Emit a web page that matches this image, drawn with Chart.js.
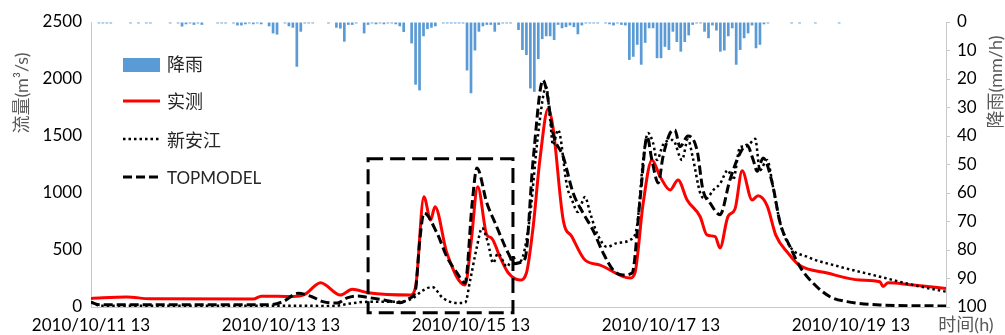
<!DOCTYPE html>
<html><head><meta charset="utf-8">
<script src="https://cdn.jsdelivr.net/npm/chart.js@4.4.0/dist/chart.umd.min.js"></script>
<style>html,body{margin:0;padding:0;background:#fff;}canvas{display:block;}</style>
</head><body>
<canvas id="c" width="1005" height="335" style="width:1005px;height:335px"></canvas>
<script>
// ---- x axis (hours since 2010/10/11 13:00) ----
const xTickHours = [0, 48, 96, 144, 192];
const xTickLabels = ['2010/10/11 13', '2010/10/13 13', '2010/10/15 13', '2010/10/17 13', '2010/10/19 13'];
const flowTicks = [0, 500, 1000, 1500, 2000, 2500];
const rainTicks = [0, 10, 20, 30, 40, 50, 60, 70, 80, 90, 100];

// ---- rainfall (mm/h) ----
const rainHours = [2,3,4,5,10,12,14,15,20,22,23,24,25,26,27,28,32,33,34,36,37,38,39,40,41,42,43,45,46,47,49,50,51,52,53,54,55,56,60,62,63,64,65,66,67,69,70,71,72,73,74,75,76,77,78,79,81,82,83,84,85,86,87,89,90,91,92,93,94,95,96,97,98,99,100,101,102,103,104,105,106,108,109,110,111,112,113,114,115,116,117,118,119,120,121,122,123,124,125,126,127,128,130,131,132,133,134,135,136,137,138,139,140,141,142,143,144,145,146,147,148,149,150,151,152,153,154,155,156,157,158,159,160,161,162,163,164,165,166,167,168,169,170,171,177,179,183,189];
const rainMM = [0.5,0.5,0.5,0.5,0.5,0.5,0.5,0.5,0.5,0.5,1.6,0.8,0.5,1,0.5,1,0.5,0.5,0.5,0.5,1.2,1.2,0.8,0.5,0.8,0.5,0.8,1.5,4,4.4,0.5,1.5,2,15.7,3.4,0.5,0.5,0.5,0.5,2,2.3,6.9,1,1,0.5,4,1,0.5,0.8,0.5,0.8,0.5,0.5,0.8,1.5,3.5,7.5,22,24,5,2.5,2,1.5,0.5,0.5,0.5,0.5,0.5,0.5,17,25,10,3.4,1.5,1,1,3.4,1,0.5,0.5,0.5,2.8,9.8,11.6,23.3,24.5,13,6,5,5,6.3,1,2.2,1.8,1.2,1.8,4.3,1.2,0.5,0.5,0.5,0.5,0.5,0.8,1.2,0.5,1,1.2,13.3,12.2,8,15,7.3,2.2,2.2,12.7,12.7,8.7,9.8,3.4,7,10.4,7,4.7,1,0.5,0.5,3.4,5.7,1.2,3,10.4,10,5,2.2,15,9.8,5.7,4,1.2,9.2,8,0.8,0.5,0.5,0.5,0.5,0.5];

// ---- observed flow 实测 (m3/s) ----
const obsHours = [0,9,15,41,43,51,54,58,63,66,70,80.6,82,84.1,85.8,86.9,89.9,94.5,96,97.7,100,101.2,103.3,105.4,108.4,110,111.7,113.4,115.5,116.7,119.3,121.5,124.8,128.6,136.2,137.4,139.5,141.7,143.8,146.3,148.3,150.6,153.9,155.6,157.7,158.9,160.9,162.7,164.5,167,168.5,170.8,173,176.1,178.9,186,194.3,199.3,200.1,201.4,207.7,216];
const obsFlow = [75,88,72,70,95,92,110,213,105,155,125,105,178,968,763,880,473,193,560,1055,632,605,440,300,237,298,704,1290,1740,1580,763,617,412,368,254,298,912,1290,1143,1026,1114,939,792,632,617,518,792,860,1195,939,975,890,630,473,368,298,237,222,180,213,193,162];

// ---- 新安江 model ----
const xajHours = [0,2.3,52.8,61.1,65.4,69.7,78.1,81.4,83.6,86.2,88.9,92.5,94.5,95.8,97.5,98.8,100.3,101.6,102.8,105.1,106.6,107.6,109.1,110.9,112.9,115,116,116.7,118,120.3,121.5,123,124.8,126.1,127.8,130.4,132.9,136.2,137.9,139.5,140.7,142,143,144.5,147,149.3,150.8,152.1,153.9,155.4,157.2,158.9,160.9,162.2,164,165.7,167.8,169,170.8,172.3,174.1,176.6,180.9,189.2,199.3,207.7,216];
const xajFlow = [45,12,12,8,30,45,47,79,140,175,79,35,38,237,529,693,561,386,470,353,441,386,441,800,1500,1930,1640,1421,1553,1053,939,833,965,825,650,527,561,588,702,1290,1526,1438,1290,1421,1465,1290,1470,1300,1000,950,1026,1080,1200,1114,1404,1410,1475,1200,1290,1055,737,529,441,353,266,193,134];

// ---- TOPMODEL ----
const topHours = [0,2.3,45,48.5,52.3,55.8,58.6,62.2,64.7,67.2,69.7,74.3,78.1,80.6,81.9,83.1,84.1,87.4,89.9,92.5,94.5,96.3,97.5,100,102.1,105.4,107.1,108.4,109.7,111.7,114.2,115.2,116.7,119.3,121.8,124.3,126.8,129.4,131.9,134.4,136.7,138.7,140.5,141.7,143.3,144.5,146.3,147.5,148.8,150.8,153.1,154.6,156.4,158.9,161.4,164,165.7,167.3,168.3,169.8,172.1,174.1,176.6,179.1,182.4,186.7,191,199.3,216];
const topFlow = [40,20,20,47,120,90,47,35,80,96,85,60,38,79,134,600,825,649,441,298,210,912,1220,912,737,473,380,390,430,1290,1990,1877,1526,1318,1000,825,675,473,325,280,298,939,1494,1290,1088,1318,1526,1553,1406,1500,1377,1026,912,810,1114,1351,1420,1290,1190,1307,1088,737,529,353,210,90,47,18,9];

// highlighted window (hours / flow)
const boxHours = [70, 106.6];
const boxFlow = [-50, 1300];

const pts = (xs, ys) => xs.map((x, i) => ({x: x, y: ys[i]}));
const AX = '#c8c8c8';
const TICKFONT = {family: "Lato, 'Noto Sans CJK SC', sans-serif", size: 17};

const overlay = {
  id: 'overlay',
  afterDraw(chart) {
    const ctx = chart.ctx, xs = chart.scales.x, ys = chart.scales.y;
    ctx.save();
    // dashed window
    const bx0 = xs.getPixelForValue(boxHours[0]), bx1 = xs.getPixelForValue(boxHours[1]);
    const by0 = ys.getPixelForValue(boxFlow[1]), by1 = ys.getPixelForValue(boxFlow[0]);
    ctx.setLineDash([15, 7]); ctx.lineWidth = 3; ctx.strokeStyle = '#000';
    ctx.strokeRect(bx0, by0, bx1 - bx0, by1 - by0);
    ctx.setLineDash([]);
    // legend
    const f = "18px Lato, 'Noto Sans CJK SC', sans-serif";
    ctx.font = f; ctx.textBaseline = 'middle'; ctx.textAlign = 'left'; ctx.fillStyle = '#262626';
    ctx.fillStyle = '#5B9BD5'; ctx.fillRect(123, 58, 37, 14);
    ctx.fillStyle = '#262626'; ctx.fillText('降雨', 167, 65);
    ctx.strokeStyle = '#ff0000'; ctx.lineWidth = 3;
    ctx.beginPath(); ctx.moveTo(123, 101); ctx.lineTo(160, 101); ctx.stroke();
    ctx.fillText('实测', 167, 102);
    ctx.strokeStyle = '#000'; ctx.lineWidth = 2.5; ctx.setLineDash([2.5, 3]);
    ctx.beginPath(); ctx.moveTo(123, 139); ctx.lineTo(160, 139); ctx.stroke();
    ctx.fillText('新安江', 167, 141);
    ctx.lineWidth = 3; ctx.setLineDash([9, 4]);
    ctx.beginPath(); ctx.moveTo(123, 177); ctx.lineTo(160, 177); ctx.stroke();
    ctx.setLineDash([]);
    ctx.font = "17px Lato, sans-serif";
    ctx.fillText('TOPMODEL', 167, 179);
    // axis titles
    ctx.fillStyle = '#595959';
    ctx.font = f; ctx.textAlign = 'center';
    ctx.save(); ctx.translate(22, 93); ctx.rotate(-Math.PI / 2); ctx.fillText('流量(m³/s)', 0, 0); ctx.restore();
    ctx.save(); ctx.translate(996, 82); ctx.rotate(-Math.PI / 2); ctx.fillText('降雨(mm/h)', 0, 0); ctx.restore();
    ctx.fillText('时间(h)', 966, 325);
    ctx.restore();
  }
};

new Chart(document.getElementById('c'), {
  type: 'bar',
  data: {
    datasets: [
      {type: 'line', label: 'TOPMODEL', data: pts(topHours, topFlow), yAxisID: 'y', borderColor: '#000', borderWidth: 3, borderDash: [9, 4], pointRadius: 0, cubicInterpolationMode: 'monotone', order: 1},
      {type: 'line', label: '新安江', data: pts(xajHours, xajFlow), yAxisID: 'y', borderColor: '#000', borderWidth: 2.5, borderDash: [2.5, 3], pointRadius: 0, cubicInterpolationMode: 'monotone', order: 2},
      {type: 'line', label: '实测', data: pts(obsHours, obsFlow), yAxisID: 'y', borderColor: '#ff0000', borderWidth: 3, pointRadius: 0, cubicInterpolationMode: 'monotone', order: 3},
      {type: 'bar', label: '降雨', data: pts(rainHours, rainMM), yAxisID: 'y2', backgroundColor: '#5B9BD5', borderWidth: 0, barPercentage: 0.85, categoryPercentage: 0.8, order: 4}
    ]
  },
  options: {
    responsive: false, animation: false, devicePixelRatio: 1,
    layout: {padding: {top: 22, left: 0, right: 0, bottom: 0}},
    plugins: {legend: {display: false}, tooltip: {enabled: false}},
    scales: {
      x: {
        type: 'linear', min: 0, max: 216, offset: false,
        grid: {display: false, drawTicks: false, offset: false},
        border: {display: true, color: AX, width: 1},
        afterBuildTicks: s => { s.ticks = xTickHours.map(v => ({value: v})); },
        ticks: {font: TICKFONT, color: '#000', padding: 8, maxRotation: 0, autoSkip: false,
          callback: v => xTickLabels[xTickHours.indexOf(v)]},
        afterFit: s => { s.height = 28; }
      },
      y: {
        position: 'left', min: 0, max: 2500,
        grid: {display: false, drawTicks: false},
        border: {display: true, color: AX, width: 1},
        afterBuildTicks: s => { s.ticks = flowTicks.map(v => ({value: v})); },
        ticks: {font: TICKFONT, color: '#000', padding: 9, callback: v => String(v)},
        afterFit: s => { s.width = 91; }
      },
      y2: {
        position: 'right', min: 0, max: 100, reverse: true,
        grid: {display: true, drawOnChartArea: false, drawTicks: true, tickLength: 4, color: AX},
        border: {display: true, color: AX, width: 1},
        afterBuildTicks: s => { s.ticks = rainTicks.map(v => ({value: v})); },
        ticks: {font: TICKFONT, color: '#000', padding: 7, callback: v => String(v)},
        afterFit: s => { s.width = 59; }
      }
    }
  },
  plugins: [overlay]
});
</script>
</body></html>
